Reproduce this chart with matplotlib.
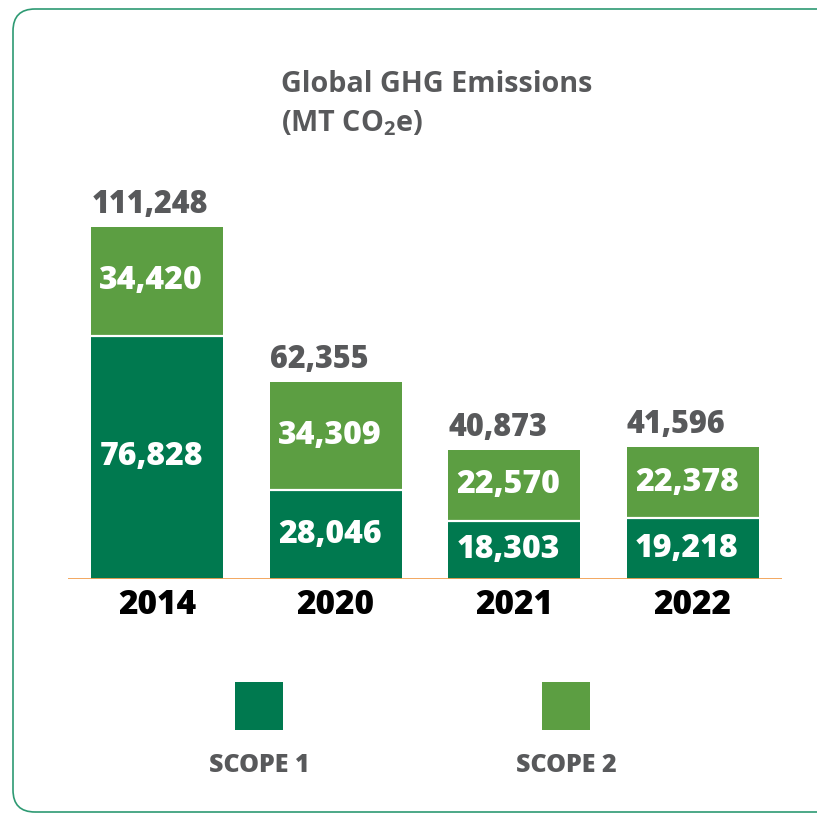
import matplotlib
matplotlib.use("Agg")
import matplotlib.pyplot as plt
from matplotlib.patches import FancyBboxPatch, Rectangle
from matplotlib.transforms import offset_copy

# ---- data ----
years = ["2014", "2020", "2021", "2022"]
scope1 = [76828, 28046, 18303, 19218]
scope2 = [34420, 34309, 22570, 22378]
totals = [111248, 62355, 40873, 41596]
legend_labels = ["SCOPE 1", "SCOPE 2"]
title_line1 = "Global GHG Emissions"
title_line2 = "(MT CO$_2$e)"

# ---- style ----
C1 = "#00794F"
C2 = "#5C9E42"
GRAY = "#58595B"
ORANGE = "#F2A154"
BORDER = "#2E9A73"
FONT = "Open Sans"
WEIGHT = "heavy"

plt.rcParams["font.family"] = [FONT, "DejaVu Sans"]
plt.rcParams["mathtext.fontset"] = "custom"
plt.rcParams["mathtext.rm"] = "Open Sans:bold"
plt.rcParams["mathtext.it"] = "Open Sans:bold"
plt.rcParams["mathtext.bf"] = "Open Sans:bold"

W, H = 817, 814
fig = plt.figure(figsize=(W / 100, H / 100), dpi=100)

def fx(px):
    return px / W

def fy(py):
    return 1 - py / H

# axes placed in pixel coordinates: x from 68 to 782, baseline at y=579
ymax = 150000
scale = 352 / 111248
ax_h = ymax * scale
ax = fig.add_axes([fx(68), fy(579), fx(782) - fx(68), ax_h / H])
ax.set_xlim(-0.5, 3.5)
ax.set_ylim(0, ymax)
ax.axis("off")

x = list(range(len(years)))
bw = 0.739
ax.bar(x, scope1, width=bw, color=C1, linewidth=0)
ax.bar(x, scope2, width=bw, bottom=scope1, color=C2, linewidth=0)
# white separator between segments
for xi, s1 in zip(x, scope1):
    ax.plot([xi - bw / 2, xi + bw / 2], [s1, s1], color="white", lw=1.6, solid_capstyle="butt")

ax.axhline(0, color=ORANGE, lw=1.3)

shift = offset_copy(ax.transData, fig=fig, x=-6, y=0, units="dots")
for xi, s1, s2, t, yr in zip(x, scope1, scope2, totals, years):
    ax.text(xi, s1 / 2, f"{s1:,}", transform=shift, ha="center", va="center",
            color="white", fontsize=23, fontweight=WEIGHT)
    ax.text(xi, s1 + s2 / 2, f"{s2:,}", transform=shift, ha="center", va="center",
            color="white", fontsize=23, fontweight=WEIGHT)
    ax.text(xi - bw / 2, s1 + s2, f"{t:,}", ha="left", va="bottom",
            color=GRAY, fontsize=22, fontweight=WEIGHT,
            transform=offset_copy(ax.transData, fig=fig, x=0, y=6, units="dots"))
    ax.text(xi, 0, yr, ha="center", va="top", color="black", fontsize=24,
            fontweight=WEIGHT,
            transform=offset_copy(ax.transData, fig=fig, x=0, y=-9, units="dots"))

# title
fig.text(fx(281), fy(92), title_line1, ha="left", va="baseline", color=GRAY,
         fontsize=20.7, fontweight="bold")
fig.text(fx(281), fy(131), title_line2, ha="left", va="baseline", color=GRAY,
         fontsize=20.7, fontweight="bold")

# legend
for cx, col, lab in zip([259, 566], [C1, C2], legend_labels):
    fig.patches.append(Rectangle((fx(cx - 24), fy(730)), 48 / W, 48 / H,
                                 transform=fig.transFigure, color=col, lw=0))
    fig.text(fx(cx), fy(765), lab, ha="center", va="center", color=GRAY,
             fontsize=18, fontweight=WEIGHT)

# rounded border
border = FancyBboxPatch((13, 2), 840, 803, boxstyle="round,pad=0,rounding_size=22",
                        transform=None, facecolor="none", edgecolor=BORDER, lw=1.2)
fig.patches.append(border)

fig.savefig("out.png", dpi=100)
